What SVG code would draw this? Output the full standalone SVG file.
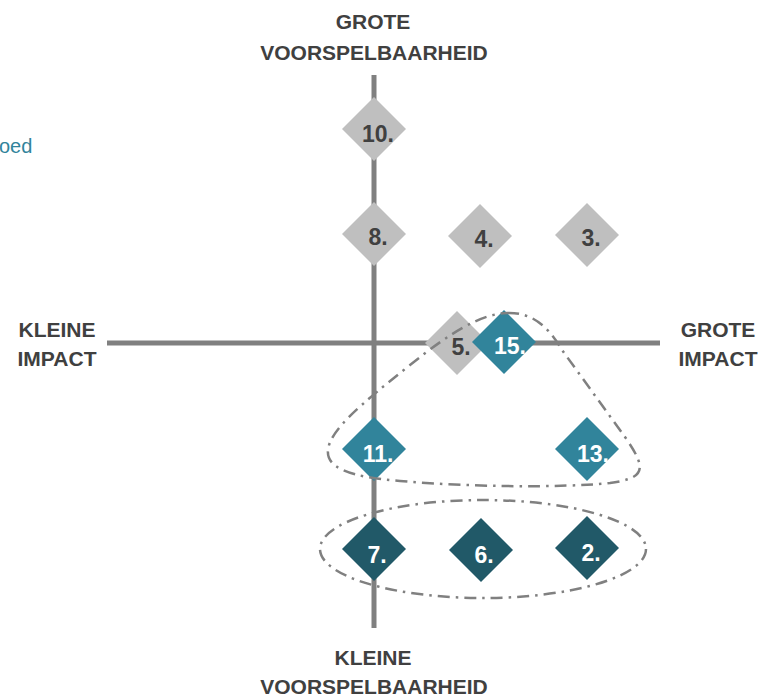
<svg xmlns="http://www.w3.org/2000/svg" width="768" height="699" viewBox="0 0 768 699">
  <style>
    .axis { stroke: #808080; stroke-width: 5; fill: none; }
    .lbl { font-family: "Liberation Sans", Arial, sans-serif; font-weight: bold; font-size: 21px; fill: #404040; text-anchor: middle; }
    .num { font-family: "Liberation Sans", Arial, sans-serif; font-weight: bold; font-size: 23px; text-anchor: middle; }
    .grey use { fill: #BFBFBF; }
    .grey text { fill: #404040; }
    .teal use { fill: #31849B; }
    .teal text { fill: #FFFFFF; }
    .dark use { fill: #215968; }
    .dark text { fill: #FFFFFF; }
    .loop { stroke: #808080; stroke-width: 2.5; fill: none; stroke-dasharray: 12 6 2.5 6; stroke-linecap: butt; }
  </style>
  <defs>
    <polygon id="dia" points="0,-32 32,0 0,32 -32,0"/>
  </defs>
  <rect width="768" height="699" fill="#FFFFFF"/>

  <!-- clipped legend fragment at the left edge -->
  <text x="-1" y="153" font-family="Liberation Sans, Arial, sans-serif" font-size="20" fill="#31849B">oed</text>

  <!-- axes -->
  <g id="axes">
    <line class="axis" x1="374" y1="75" x2="374" y2="628"/>
    <line class="axis" x1="107" y1="343" x2="660" y2="343"/>
  </g>

  <!-- axis labels -->
  <g id="axis-labels">
    <text class="lbl" x="373" y="29">GROTE</text>
    <text class="lbl" x="374" y="60">VOORSPELBAARHEID</text>
    <text class="lbl" x="373" y="665">KLEINE</text>
    <text class="lbl" x="374" y="694">VOORSPELBAARHEID</text>
    <text class="lbl" x="57" y="337">KLEINE</text>
    <text class="lbl" x="57" y="366">IMPACT</text>
    <text class="lbl" x="718" y="337">GROTE</text>
    <text class="lbl" x="718" y="366">IMPACT</text>
  </g>

  <!-- items -->
  <g id="n10" class="grey" transform="translate(374,129)"><use href="#dia"/><text class="num" x="4" y="13">10.</text></g>
  <g id="n8" class="grey" transform="translate(374,234)"><use href="#dia"/><text class="num" x="4" y="11">8.</text></g>
  <g id="n4" class="grey" transform="translate(480,236)"><use href="#dia"/><text class="num" x="4" y="11">4.</text></g>
  <g id="n3" class="grey" transform="translate(587,235)"><use href="#dia"/><text class="num" x="4" y="11">3.</text></g>
  <g id="n5" class="grey" transform="translate(457,343)"><use href="#dia"/><text class="num" x="4" y="12">5.</text></g>
  <g id="n15" class="teal" transform="translate(504,342)"><use href="#dia"/><text class="num" x="6" y="12">15.</text></g>
  <g id="n11" class="teal" transform="translate(374,449)"><use href="#dia"/><text class="num" x="4" y="13">11.</text></g>
  <g id="n13" class="teal" transform="translate(587,449)"><use href="#dia"/><text class="num" x="6" y="13">13.</text></g>
  <g id="n7" class="dark" transform="translate(374,549)"><use href="#dia"/><text class="num" x="3" y="14">7.</text></g>
  <g id="n6" class="dark" transform="translate(481,550)"><use href="#dia"/><text class="num" x="3" y="13">6.</text></g>
  <g id="n2" class="dark" transform="translate(587,548)"><use href="#dia"/><text class="num" x="4" y="13">2.</text></g>

  <!-- dash-dot groupings -->
  <g id="connectors">
    <path class="loop" d="M 507,313 C 535,312 550,330 562,350 L 625,437 C 648,470 645,478 610,483 C 560,488 470,487 400,481 C 350,477 326,468 328,450 C 330,430 360,405 410,365 C 450,333 480,314 507,313 Z"/>
    <ellipse class="loop" cx="483" cy="549" rx="163" ry="49"/>
  </g>
</svg>
